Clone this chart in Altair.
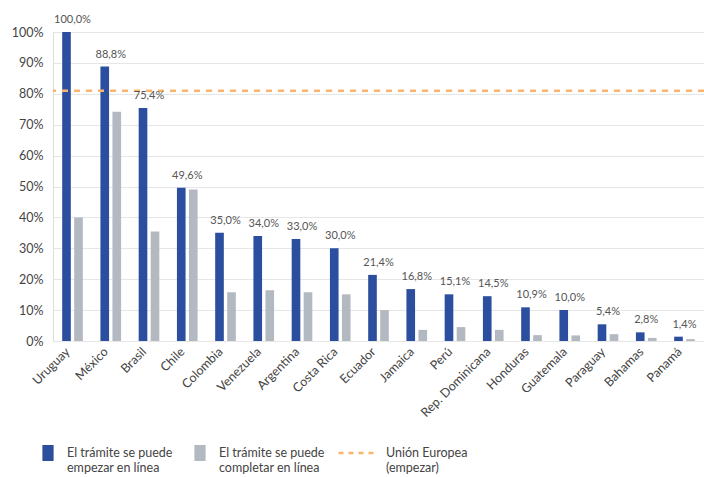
import altair as alt
import pandas as pd

countries = ["Uruguay", "México", "Brasil", "Chile", "Colombia", "Venezuela",
             "Argentina", "Costa Rica", "Ecuador", "Jamaica", "Perú",
             "Rep. Dominicana", "Honduras", "Guatemala", "Paraguay", "Bahamas", "Panamá"]
empezar = [100.0, 88.8, 75.4, 49.6, 35.0, 34.0, 33.0, 30.0, 21.4, 16.8, 15.1,
           14.5, 10.9, 10.0, 5.4, 2.8, 1.4]
completar = [40.0, 74.2, 35.4, 49.0, 15.8, 16.4, 15.8, 15.1, 10.0, 3.6, 4.5,
             3.6, 1.9, 1.8, 2.2, 1.0, 0.6]
eu_value = [81.0]
y_ticks = [0, 10, 20, 30, 40, 50, 60, 70, 80, 90, 100]

s1 = "El trámite se puede|empezar en línea"
s2 = "El trámite se puede|completar en línea"
s3 = "Unión Europea|(empezar)"

BLUE = "#2B4E9F"
GREY = "#B3B9C1"
ORANGE = "#FBB46B"
FONT = "Lato"

df = pd.DataFrame({
    "pais": countries * 2,
    "serie": [s1] * len(countries) + [s2] * len(countries),
    "valor": empezar + completar,
})
lab = pd.DataFrame({"pais": countries, "valor": empezar})
eu = pd.DataFrame({"serie": [s3], "valor": eu_value})

x = alt.X("pais:N", sort=countries,
          scale=alt.Scale(paddingInner=0.46, paddingOuter=0.24),
          axis=alt.Axis(title=None, labelAngle=-45, labelAlign="right",
                        labelBaseline="top", domain=False, ticks=False,
                        labelFont=FONT, labelFontSize=12.5, labelColor="#444",
                        labelPadding=4, labelOffset=-9, grid=False))
y_axis = alt.Axis(title=None, values=y_ticks, tickCount=11,
                  labelExpr="datum.value + '%'", domain=False, ticks=False,
                  gridColor="#e6e6e6", labelPadding=10, labelFont=FONT,
                  labelFontSize=12.5, labelColor="#444", labelOverlap=False)
y_scale = alt.Scale(domain=[0, 100], nice=False)
y = alt.Y("valor:Q", scale=y_scale, axis=y_axis)

bars = alt.Chart(df).mark_bar().encode(
    x=x,
    xOffset=alt.XOffset("serie:N", sort=[s1, s2], scale=alt.Scale(paddingInner=0.28)),
    y=y,
    color=alt.Color("serie:N", scale=alt.Scale(domain=[s1, s2], range=[BLUE, GREY]),
                    legend=alt.Legend(title=None, orient="none", legendX=-13, legendY=413,
                                      direction="horizontal",
                                      labelExpr="split(datum.label, '|')",
                                      symbolType="M-0.7,-1H0.7V1H-0.7Z", symbolSize=256,
                                      symbolStrokeWidth=0, labelFont=FONT, labelFontSize=12.5,
                                      labelColor="#444", labelLimit=300, labelOffset=11,
                                      columnPadding=19)),
)

text = alt.Chart(lab).transform_calculate(
    lbl="replace(format(datum.valor, '.1f'), '.', ',') + '%'"
).mark_text(baseline="bottom", dy=-7, font=FONT, fontSize=11, color="#555").encode(
    x=x, y=y, text="lbl:N")

rule = alt.Chart(eu).mark_rule(strokeDash=[6, 6], strokeWidth=2.5).encode(
    y=y,
    stroke=alt.Stroke("serie:N", scale=alt.Scale(domain=[s3], range=[ORANGE]),
                      legend=alt.Legend(title=None, orient="none", legendX=284, legendY=401,
                                        labelExpr="split(datum.label, '|')",
                                        symbolType="stroke", symbolDash=[5, 5],
                                        symbolStrokeWidth=2.5, symbolSize=1369,
                                        labelFont=FONT, labelFontSize=12.5, labelColor="#444",
                                        labelLimit=300, labelOffset=9)),
)

chart = alt.layer(bars, rule, text).properties(
    width=651, height=309,
    padding={"left": 53, "top": 32, "right": 0, "bottom": 136},
    autosize=alt.AutoSizeParams(type="none"),
).configure_view(stroke=None).configure(background="white")

chart.save("out.html", embed_options={"renderer": "svg", "actions": False})
